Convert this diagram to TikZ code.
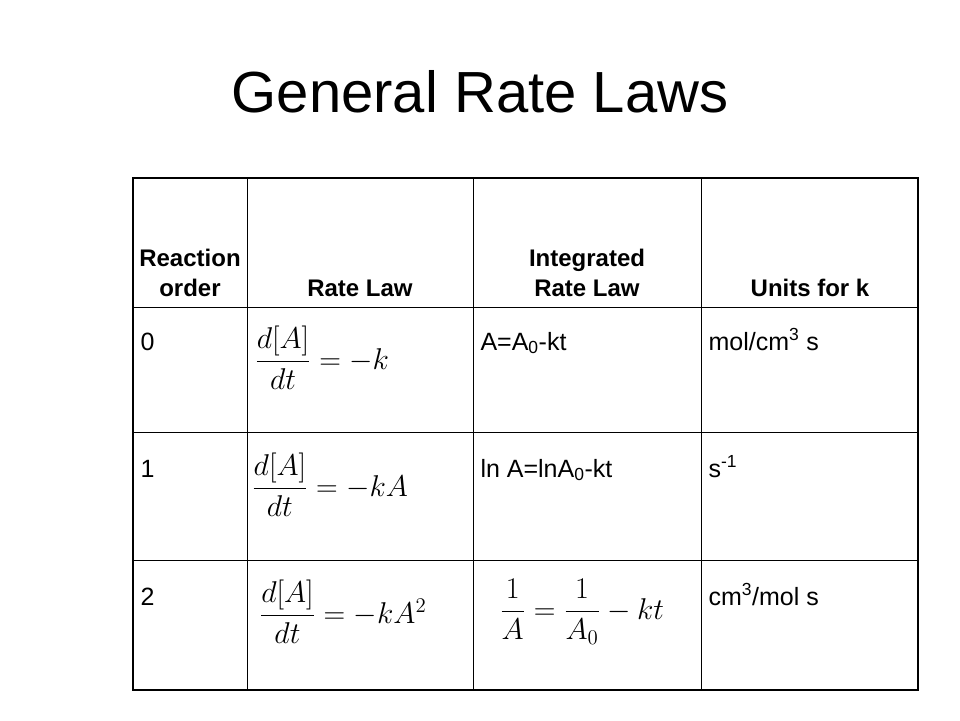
\documentclass[tikz,border=0pt]{standalone}
\usepackage{fontspec}
\setmainfont{Liberation Sans}
\usepackage{amsmath}
\begin{document}
\begin{tikzpicture}[x=1pt,y=-1pt,
  hdr/.style={font=\fontsize{24}{30}\selectfont\bfseries,align=center,anchor=base},
  cell/.style={font=\fontsize{25}{28}\selectfont,anchor=base west},
  eq/.style={font=\fontsize{20}{24}\selectfont,scale=1.45,transform shape}]
\useasboundingbox (0,0) rectangle (960,720);
\node[font=\fontsize{58}{66}\selectfont] (title) at (480,92) {General Rate Laws};
\draw[line width=1.5pt] (133,178) rectangle (918,690);
\foreach \x in {247,473,701} \draw[line width=1pt] (\x,178) -- (\x,690);
\foreach \y in {307,432,560} \draw[line width=1pt] (133,\y) -- (918,\y);
\node[hdr] (h1) at (190,296) {Reaction\\order};
\node[hdr] (h2) at (360,296) {Rate Law};
\node[hdr] (h3) at (587,296) {Integrated\\Rate Law};
\node[hdr] (h4) at (810,296) {Units for k};
\node[cell] (r0) at (137,350) {0};
\node[cell] (r1) at (137,477) {1};
\node[cell] (r2) at (137,605) {2};
\node[eq] (e0) at (322,358) {$\dfrac{d[A]}{dt}=-k$};
\node[eq] (e1) at (330,485) {$\dfrac{d[A]}{dt}=-kA$};
\node[eq] (e2) at (343,612) {$\dfrac{d[A]}{dt}=-kA^2$};
\node[cell] (i0) at (477,350) {A=A\textsubscript{0}-kt};
\node[cell] (i1) at (477,477) {ln A=lnA\textsubscript{0}-kt};
\node[eq] (i2) at (582,612) {$\dfrac{1}{A}=\dfrac{1}{A_0}-kt$};
\node[cell] (u0) at (705,350) {mol/cm\textsuperscript{3} s};
\node[cell] (u1) at (705,477) {s\textsuperscript{-1}};
\node[cell] (u2) at (705,605) {cm\textsuperscript{3}/mol s};
\end{tikzpicture}
\end{document}
